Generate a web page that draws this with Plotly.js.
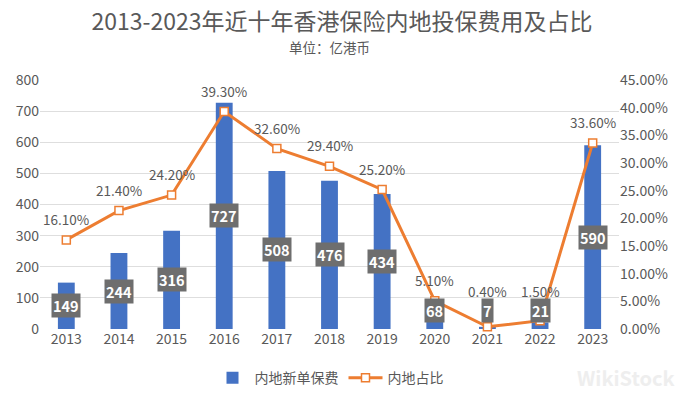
<!DOCTYPE html>
<html>
<head>
<meta charset="utf-8">
<script src="https://cdn.plot.ly/plotly-3.0.1.min.js"></script>
<style>html,body{margin:0;padding:0;background:#fff;}#chart{width:684px;height:396px;}</style>
</head>
<body>
<div id="chart"></div>
<script>
const years = [2013, 2014, 2015, 2016, 2017, 2018, 2019, 2020, 2021, 2022, 2023];
const premiums = [149, 244, 316, 727, 508, 476, 434, 68, 7, 21, 590];
const shares = [0.161, 0.214, 0.242, 0.393, 0.326, 0.294, 0.252, 0.051, 0.004, 0.015, 0.336];
const shareLabels = ['16.10%','21.40%','24.20%','39.30%','32.60%','29.40%','25.20%','5.10%','0.40%','1.50%','33.60%'];

const font = "'Noto Sans CJK SC', 'Noto Sans', sans-serif";
const gray = '#595959';

const barTrace = {
  type: 'bar', x: years, y: premiums, name: '内地新单保费',
  marker: {color: '#4472C4'}, width: 0.32, yaxis: 'y', hoverinfo: 'none'
};
const lineTrace = {
  type: 'scatter', mode: 'lines+markers', x: years, y: shares, name: '内地占比',
  yaxis: 'y2', line: {color: '#ED7D31', width: 3},
  marker: {symbol: 'square', size: 8, color: '#ffffff', line: {color: '#ED7D31', width: 1.5}},
  cliponaxis: false, hoverinfo: 'none'
};

const annotations = premiums.map((v, i) => ({
  x: years[i], y: Math.max(v / 2, 58), xref: 'x', yref: 'y',
  text: '<b>' + v + '</b>', showarrow: false,
  font: {family: font, size: 14.5, color: '#ffffff'},
  bgcolor: '#6e6e6e', borderpad: 1
}));
shares.forEach((s, i) => annotations.push({
  x: years[i], y: Math.max(s, 0.03), xref: 'x', yref: 'y2',
  text: shareLabels[i], showarrow: false, yanchor: 'bottom', yshift: 9,
  font: {family: font, size: 13.5, color: gray}
}));
annotations.push({
  xref: 'paper', yref: 'paper', x: 0.5, y: 1, xanchor: 'center', yanchor: 'middle',
  text: '单位：亿港币', showarrow: false, yshift: 33,
  font: {family: font, size: 13.5, color: gray}
});
annotations.push({
  xref: 'paper', yref: 'paper', x: 1.1, y: 0, xanchor: 'right', yanchor: 'middle',
  text: '<b>WikiStock</b>', showarrow: false, yshift: -48,
  font: {family: font, size: 20, color: '#eeeeee'}
});

const layout = {
  width: 684, height: 396,
  margin: {l: 40, r: 65, t: 80, b: 67, autoexpand: false},
  paper_bgcolor: '#ffffff', plot_bgcolor: '#ffffff',
  title: {text: '2013-2023年近十年香港保险内地投保费用及占比', x: 0.5, xanchor: 'center', y: 0.944, yanchor: 'middle',
    font: {family: font, size: 23, color: gray}},
  font: {family: font, color: gray, size: 14},
  showlegend: true,
  legend: {orientation: 'h', x: 0.5, xanchor: 'center', y: -0.197, yanchor: 'middle',
    font: {family: font, size: 14, color: gray}, traceorder: 'normal', itemwidth: 34},
  xaxis: {type: 'linear', range: [2012.5, 2023.5], dtick: 1, tick0: 2013, showgrid: false,
    showline: false, ticks: '', zeroline: false,
    tickfont: {family: font, size: 14, color: gray}},
  yaxis: {range: [0, 800], dtick: 100, showgrid: true, gridcolor: '#dedede', zeroline: false,
    showline: false, tickfont: {family: font, size: 14, color: gray}, ticks: ''},
  yaxis2: {overlaying: 'y', side: 'right', range: [0, 0.45], dtick: 0.05, tickformat: '.2%',
    showgrid: false, zeroline: false, showline: false,
    tickfont: {family: font, size: 14, color: gray}},
  annotations: annotations
};

Plotly.newPlot('chart', [barTrace, lineTrace], layout, {displayModeBar: false, staticPlot: true});
</script>
</body>
</html>
